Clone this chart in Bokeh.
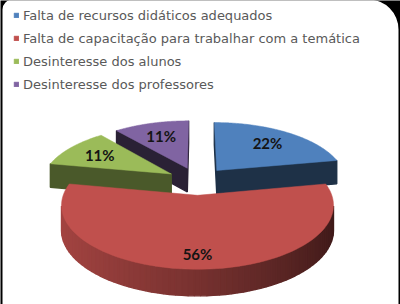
import numpy as np
from bokeh.plotting import figure
from bokeh.models import Range1d, Legend, LegendItem, ColumnDataSource
from bokeh.embed import file_html
from bokeh.resources import INLINE
from bokeh.core.properties import value

# ---------------- data ----------------
categories = [
    "Falta de recursos didáticos adequados",
    "Falta de capacitação para trabalhar com a temática",
    "Desinteresse dos alunos",
    "Desinteresse dos professores",
]
values = [22, 56, 11, 11]
labels = [f"{v}%" for v in values]

# ---------------- styles ----------------
colors = ["#4F81BD", "#C0504D", "#9BBB59", "#8064A2"]
radial_shade = [0.38, 0.45, 0.48, 0.33]
label_r = [0.70, 0.82, 0.70, 0.70]

# ---------------- 3D pie projection ----------------
CX, CY = 197.0, 180.4
A, B = 129.5, 58.0
K = 0.15
EXPLODE = 0.24
DEPTH = 24.0
LIGHT = np.array([-1.0, 0.15]) / np.hypot(1.0, 0.15)


def persp(Y):
    return 1.0 / (1.0 - K * np.asarray(Y, dtype=float))


def proj(X, Y, z=0.0):
    X = np.asarray(X, dtype=float)
    Y = np.asarray(Y, dtype=float)
    m = persp(Y)
    return CX + A * X * m, CY + B * Y * m + z * np.sqrt(m)


def shade(hexcol, f):
    h = hexcol.lstrip("#")
    r, g, b = (int(h[i:i + 2], 16) for i in (0, 2, 4))
    f = max(0.0, min(1.0, f))
    return "#%02x%02x%02x" % (int(r * f), int(g * f), int(b * f))


total = float(sum(values))
ends = np.cumsum(values) / total * 360.0
starts = np.concatenate([[0.0], ends[:-1]])
cam = np.array([0.0, 1.0 / K])

slices = []
for i, v in enumerate(values):
    s, e = starts[i], ends[i]
    mid = np.radians((s + e) / 2)
    ox, oy = EXPLODE * np.sin(mid), -EXPLODE * np.cos(mid)
    th = np.radians(np.linspace(s, e, 90))
    ax = ox + np.sin(th)
    ay = oy - np.cos(th)
    faces = []
    # outer rim
    for j in range(len(th) - 1):
        phi = (th[j] + th[j + 1]) / 2
        n = np.array([np.sin(phi), -np.cos(phi)])
        P = np.array([ox, oy]) + n
        if np.dot(cam - P, n) > 0:
            xa, ya = proj([ax[j], ax[j + 1]], [ay[j], ay[j + 1]])
            xb, yb = proj([ax[j], ax[j + 1]], [ay[j], ay[j + 1]], DEPTH)
            xs = [xa[0], xa[1], xb[1], xb[0]]
            ys = [ya[0], ya[1], yb[1], yb[0]]
            f = 0.58 + 0.27 * float(np.dot(n, LIGHT))
            faces.append((P[1], xs, ys, shade(colors[i], f)))
    # radial faces
    for ang, sign in ((np.radians(s), -1.0), (np.radians(e), 1.0)):
        n = sign * np.array([np.cos(ang), np.sin(ang)])
        P = np.array([ox + 0.5 * np.sin(ang), oy - 0.5 * np.cos(ang)])
        if np.dot(cam - P, n) > 0:
            wx = [ox, ox + np.sin(ang)]
            wy = [oy, oy - np.cos(ang)]
            xa, ya = proj(wx, wy)
            xb, yb = proj(wx, wy, DEPTH)
            xs = [xa[0], xa[1], xb[1], xb[0]]
            ys = [ya[0], ya[1], yb[1], yb[0]]
            faces.append((P[1] - 0.3, xs, ys, shade(colors[i], radial_shade[i])))
    faces.sort(key=lambda t: t[0])
    tx, ty = proj(np.concatenate([[ox], ax]), np.concatenate([[oy], ay]))
    lx, ly = proj(ox + label_r[i] * np.sin(mid), oy - label_r[i] * np.cos(mid))
    key = oy - 0.6 * np.cos(mid)
    slices.append(dict(i=i, key=key, faces=faces, tx=list(tx), ty=list(ty),
                       lx=float(lx), ly=float(ly)))

# ---------------- figure ----------------
p = figure(width=400, height=304, x_range=Range1d(0, 400), y_range=Range1d(304, 0),
           toolbar_location=None, output_backend="svg", min_border=0)
p.axis.visible = False
p.grid.visible = False
p.outline_line_color = None
p.background_fill_color = "black"
p.border_fill_color = "black"

# rounded white panel
p.quad(left=[2], right=[398], top=[-1], bottom=[310], fill_color="white",
       line_color=None, border_radius=(10, 30, 0, 0))

top_renderers = {}
for sl in sorted(slices, key=lambda d: d["key"]):
    i = sl["i"]
    if sl["faces"]:
        src = ColumnDataSource(dict(xs=[f[1] for f in sl["faces"]],
                                    ys=[f[2] for f in sl["faces"]],
                                    c=[f[3] for f in sl["faces"]]))
        p.patches("xs", "ys", source=src, fill_color="c", line_color="c",
                  line_width=1.4)
    r = p.patches(xs=[sl["tx"]], ys=[sl["ty"]], fill_color=colors[i],
                  line_color=colors[i], line_width=0.5)
    top_renderers[i] = r

ordered = sorted(slices, key=lambda d: d["i"])
lab_src = ColumnDataSource(dict(x=[s["lx"] for s in ordered],
                                y=[s["ly"] for s in ordered],
                                t=labels))
p.text("x", "y", text="t", source=lab_src, text_align="center",
       text_baseline="middle", text_font=value("Lato"), text_font_style="bold",
       text_font_size="15px", text_color="#141414")

legend = Legend(items=[LegendItem(label=categories[i], renderers=[top_renderers[i]])
                       for i in range(len(categories))],
                location=(13, 211), orientation="vertical",
                glyph_width=6, glyph_height=6, label_standoff=4,
                label_height=18, spacing=5, padding=0, margin=0,
                label_text_font="DejaVu Sans", label_text_font_size="13px",
                label_text_color="#595959", border_line_alpha=0,
                background_fill_alpha=0)
p.add_layout(legend, "center")

open("out.html", "w").write(file_html(p, INLINE))
